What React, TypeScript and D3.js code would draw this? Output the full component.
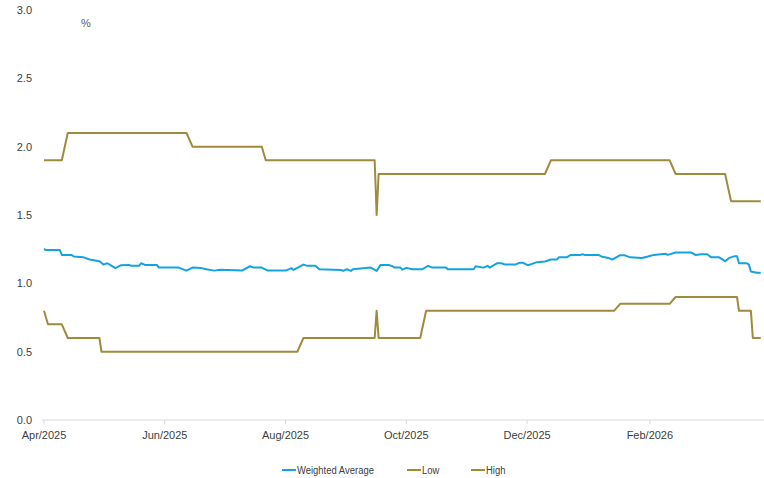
import React from 'react';
import * as d3 from 'd3';

// weighted average (date, %)
const weightedAverage: [string, number][] = [
  ['2025-04-01', 1.252], ['2025-04-02', 1.243], ['2025-04-09', 1.243], ['2025-04-10', 1.208],
  ['2025-04-15', 1.208], ['2025-04-16', 1.196], ['2025-04-21', 1.19], ['2025-04-24', 1.174],
  ['2025-04-29', 1.162], ['2025-05-01', 1.137], ['2025-05-03', 1.147], ['2025-05-05', 1.13],
  ['2025-05-07', 1.111], ['2025-05-10', 1.133], ['2025-05-14', 1.135], ['2025-05-15', 1.128],
  ['2025-05-19', 1.128], ['2025-05-20', 1.147], ['2025-05-22', 1.135], ['2025-05-28', 1.135],
  ['2025-05-29', 1.115], ['2025-06-08', 1.115], ['2025-06-12', 1.093], ['2025-06-15', 1.115],
  ['2025-06-19', 1.113], ['2025-06-22', 1.103], ['2025-06-26', 1.093], ['2025-06-29', 1.1],
  ['2025-07-10', 1.093], ['2025-07-14', 1.125], ['2025-07-16', 1.115], ['2025-07-20', 1.115],
  ['2025-07-23', 1.093], ['2025-08-01', 1.093], ['2025-08-04', 1.111], ['2025-08-05', 1.098],
  ['2025-08-10', 1.137], ['2025-08-12', 1.128], ['2025-08-16', 1.128], ['2025-08-18', 1.103],
  ['2025-08-29', 1.098], ['2025-08-30', 1.091], ['2025-09-01', 1.103], ['2025-09-03', 1.091],
  ['2025-09-04', 1.103], ['2025-09-13', 1.115], ['2025-09-16', 1.091], ['2025-09-18', 1.135],
  ['2025-09-22', 1.135], ['2025-09-24', 1.125], ['2025-09-25', 1.115], ['2025-09-28', 1.115],
  ['2025-09-29', 1.1], ['2025-10-01', 1.113], ['2025-10-04', 1.103], ['2025-10-09', 1.103],
  ['2025-10-12', 1.128], ['2025-10-14', 1.115], ['2025-10-21', 1.115], ['2025-10-22', 1.103],
  ['2025-11-04', 1.103], ['2025-11-05', 1.125], ['2025-11-09', 1.115], ['2025-11-11', 1.128],
  ['2025-11-12', 1.115], ['2025-11-16', 1.147], ['2025-11-18', 1.147], ['2025-11-20', 1.137],
  ['2025-11-25', 1.137], ['2025-11-27', 1.15], ['2025-11-29', 1.15], ['2025-12-01', 1.135],
  ['2025-12-02', 1.135], ['2025-12-06', 1.155], ['2025-12-10', 1.16], ['2025-12-13', 1.174],
  ['2025-12-16', 1.174], ['2025-12-17', 1.19], ['2025-12-21', 1.19], ['2025-12-23', 1.208],
  ['2025-12-28', 1.208], ['2025-12-29', 1.213], ['2025-12-30', 1.208], ['2026-01-06', 1.208],
  ['2026-01-08', 1.194], ['2026-01-11', 1.186], ['2026-01-13', 1.174], ['2026-01-17', 1.206],
  ['2026-01-19', 1.206], ['2026-01-22', 1.19], ['2026-01-28', 1.186], ['2026-01-31', 1.196],
  ['2026-02-03', 1.208], ['2026-02-09', 1.216], ['2026-02-10', 1.208], ['2026-02-14', 1.225],
  ['2026-02-22', 1.225], ['2026-02-24', 1.208], ['2026-02-27', 1.213], ['2026-03-02', 1.213],
  ['2026-03-04', 1.19], ['2026-03-08', 1.19], ['2026-03-11', 1.162], ['2026-03-13', 1.186],
  ['2026-03-16', 1.199], ['2026-03-17', 1.199], ['2026-03-18', 1.147], ['2026-03-22', 1.147],
  ['2026-03-23', 1.137], ['2026-03-24', 1.086], ['2026-03-27', 1.078], ['2026-03-29', 1.078],
];

const low: [string, number][] = [
  ['2025-04-01', 0.8], ['2025-04-03', 0.7], ['2025-04-10', 0.7], ['2025-04-13', 0.6],
  ['2025-04-29', 0.6], ['2025-04-30', 0.5], ['2025-08-07', 0.5], ['2025-08-10', 0.6],
  ['2025-09-15', 0.6], ['2025-09-16', 0.8], ['2025-09-17', 0.6], ['2025-10-08', 0.6],
  ['2025-10-11', 0.8], ['2026-01-14', 0.8], ['2026-01-17', 0.85], ['2026-02-11', 0.85],
  ['2026-02-14', 0.9], ['2026-03-17', 0.9], ['2026-03-18', 0.8], ['2026-03-24', 0.8],
  ['2026-03-25', 0.6], ['2026-03-29', 0.6],
];

const high: [string, number][] = [
  ['2025-04-01', 1.9], ['2025-04-10', 1.9], ['2025-04-13', 2.1], ['2025-06-12', 2.1],
  ['2025-06-15', 2.0], ['2025-07-20', 2.0], ['2025-07-22', 1.9], ['2025-09-15', 1.9],
  ['2025-09-16', 1.5], ['2025-09-17', 1.8], ['2025-12-10', 1.8], ['2025-12-13', 1.9],
  ['2026-02-11', 1.9], ['2026-02-14', 1.8], ['2026-03-11', 1.8], ['2026-03-14', 1.6],
  ['2026-03-29', 1.6],
];

const yTicks = [0, 0.5, 1, 1.5, 2, 2.5, 3];
const xTickDates = ['2025-04-01', '2025-06-01', '2025-08-01', '2025-10-01', '2025-12-01', '2026-02-01'];

const seriesNames = ['Weighted Average', 'Low', 'High'];

const BLUE = '#13a3e0';
const GOLD = '#a08b3d';
const FONT = 'Arial, "Liberation Sans", sans-serif';

const parse = d3.timeParse('%Y-%m-%d');

export default function App() {
  const width = 764, height = 478;

  const x = d3.scaleTime()
    .domain([parse('2025-04-01')!, parse('2026-04-01')!])
    .range([44, 766.7]);
  const y = d3.scaleLinear().domain([0, 3]).range([420, 10]);

  const line = d3.line<[string, number]>()
    .x(d => x(parse(d[0])!))
    .y(d => y(d[1]));

  const fmt = d3.timeFormat('%b/%Y');
  const series = [
    {name: seriesNames[0], data: weightedAverage, color: BLUE},
    {name: seriesNames[1], data: low, color: GOLD},
    {name: seriesNames[2], data: high, color: GOLD},
  ];
  const legendX = [282, 407, 471];

  return (
    <svg width={width} height={height} style={{position: 'absolute', left: 0, top: 0, background: '#fff'}}
      fontFamily={FONT}>
      {/* y axis labels */}
      {yTicks.map(t => (
        <text key={t} x={32} y={y(t)} dy="0.35em" textAnchor="end" fontSize={11} fill="#404040">
          {t.toFixed(1)}
        </text>
      ))}
      <text x={86} y={23} dy="0.35em" textAnchor="middle" fontSize={11} fill="#595959">%</text>

      {/* x axis */}
      <line x1={42} x2={width} y1={y(0)} y2={y(0)} stroke="#d9d9d9" strokeWidth={1} />
      {xTickDates.map(s => {
        const px = x(parse(s)!);
        return (
          <g key={s}>
            <line x1={px} x2={px} y1={y(0)} y2={y(0) + 4} stroke="#d9d9d9" />
            <text x={px} y={438.5} textAnchor="middle" fontSize={11} fill="#404040">{fmt(parse(s)!)}</text>
          </g>
        );
      })}

      {/* series */}
      {series.map(s => (
        <path key={s.name} d={line(s.data) || ''} fill="none" stroke={s.color} strokeWidth={2}
          strokeLinejoin="round" />
      ))}

      {/* legend, text squeezed a bit like the narrow font of the original */}
      {series.map((s, i) => (
        <g key={'lg' + s.name} transform={`translate(${legendX[i]},470)`}>
          <line x1={0} x2={14} y1={0} y2={0} stroke={s.color} strokeWidth={2} />
          <text transform="translate(15,0) scale(0.86,1)" x={0} y={0} dy="0.35em" fontSize={11} fill="#404040">
            {s.name}
          </text>
        </g>
      ))}
    </svg>
  );
}
